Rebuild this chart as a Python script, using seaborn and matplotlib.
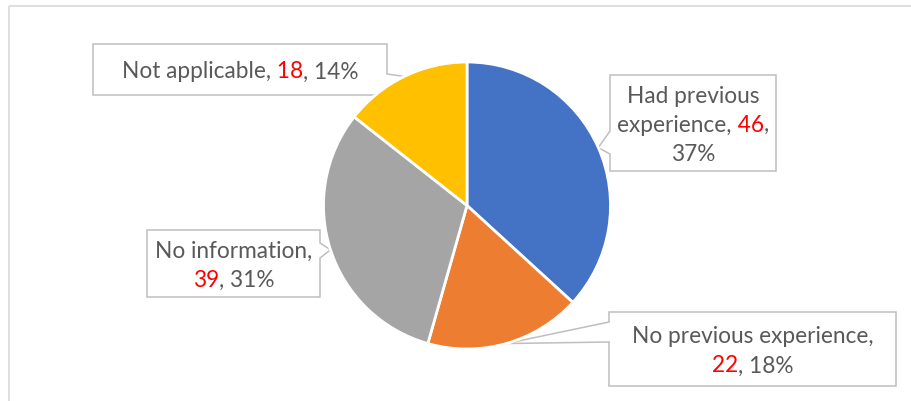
import numpy as np
import matplotlib
matplotlib.use("Agg")
import matplotlib.pyplot as plt
import seaborn as sns
from matplotlib.patches import Polygon
from matplotlib.offsetbox import TextArea, HPacker, AnnotationBbox

# Data
categories = ["Had previous experience", "No previous experience",
              "No information", "Not applicable"]
counts = [46, 22, 39, 18]
colors = ["#4472C4", "#ED7D31", "#A5A5A5", "#FFC000"]

# Label text per slice; {n} is the count (drawn in red), {p} the percentage
label_lines = [
    ["Had previous", "experience, {n},", "{p}%"],
    ["No previous experience,", "{n}, {p}%"],
    ["No information,", "{n}, {p}%"],
    ["Not applicable, {n}, {p}%"],
]

# Callout boxes in figure pixels: x0, y0, x1, y1, pointer side, pointer span
callouts = [
    (610, 76, 776, 172, "left", 132, 155),
    (609, 313, 896, 387, "left", 323, 343),
    (147, 231, 320, 298, "right", 244, 259),
    (93, 45, 387, 96, "right", 75, 88),
]

W, H = 912, 402
FONT = "Lato"
FS = 16.3
LINE_H = 29
GRAY_TXT = "#595959"
RED_TXT = "#FF0000"
EDGE = "#BFBFBF"

sns.set_theme(style="white")
plt.rcParams["font.family"] = [FONT, "DejaVu Sans"]

fig = plt.figure(figsize=(W / 100, H / 100), dpi=100)
fig.patch.set_facecolor("white")

# Background axes in pixel units (y downwards)
bg = fig.add_axes([0, 0, 1, 1])
bg.set_xlim(0, W)
bg.set_ylim(H, 0)
bg.axis("off")

# Chart area frame
bg.plot([9.5, 9.5], [H + 5, 6.5], color="#D9D9D9", lw=1.2, solid_capstyle="butt")
bg.plot([9.5, W + 5], [6.5, 6.5], color="#D9D9D9", lw=1.2, solid_capstyle="butt")

# Pie axes
cx, cy, r = 467, 206.5, 143.5
pie_ax = fig.add_axes([(cx - r) / W, (H - cy - r) / H, 2 * r / W, 2 * r / H])
wedges, _ = pie_ax.pie(counts, colors=colors, startangle=90, counterclock=False,
                       radius=1, center=(0, 0),
                       wedgeprops=dict(edgecolor="white", linewidth=2))
pie_ax.set_xlim(-1, 1)
pie_ax.set_ylim(-1, 1)
pie_ax.set_aspect("equal")
pie_ax.axis("off")
pie_ax.patch.set_alpha(0)
pie_ax.set_zorder(2)

total = sum(counts)
to_bg = pie_ax.transData + bg.transData.inverted()

for i, (w, n) in enumerate(zip(wedges, counts)):
    p = round(n / total * 100)
    theta = np.deg2rad((w.theta1 + w.theta2) / 2)
    tip = to_bg.transform((np.cos(theta), np.sin(theta)))

    x0, y0, x1, y1, side, pa, pb = callouts[i]
    if side == "left":
        pts = [(x0, y0), (x1, y0), (x1, y1), (x0, y1), (x0, pb), tuple(tip), (x0, pa)]
    else:
        pts = [(x0, y0), (x1, y0), (x1, pa), tuple(tip), (x1, pb), (x1, y1), (x0, y1)]
    bg.add_patch(Polygon(pts, closed=True, facecolor="white", edgecolor=EDGE,
                         lw=1.1, joinstyle="miter", zorder=1))

    lines = label_lines[i]
    tx = (x0 + x1) / 2
    tyc = (y0 + y1) / 2 + 1.5
    for k, line in enumerate(lines):
        ty = tyc + (k - (len(lines) - 1) / 2) * LINE_H
        line = line.replace("{p}", str(p))
        parts = line.split("{n}")
        pieces = []
        carry = ""
        for j, part in enumerate(parts):
            if j > 0:
                pieces.append((carry + str(n), RED_TXT))
                carry = ""
            stripped = part.rstrip(" ")
            trail = part[len(stripped):]
            if j < len(parts) - 1:
                carry = trail
                part = stripped
            if part:
                pieces.append((part, GRAY_TXT))
        boxes = [TextArea(t, textprops=dict(color=c, fontsize=FS, family=[FONT, "DejaVu Sans"]))
                 for t, c in pieces]
        pack = HPacker(children=boxes, align="baseline", pad=0, sep=0)
        ab = AnnotationBbox(pack, (tx, ty), xycoords="data", frameon=False,
                            box_alignment=(0.5, 0.5), pad=0, zorder=3)
        bg.add_artist(ab)

fig.savefig("out.png", dpi=100, facecolor="white")
